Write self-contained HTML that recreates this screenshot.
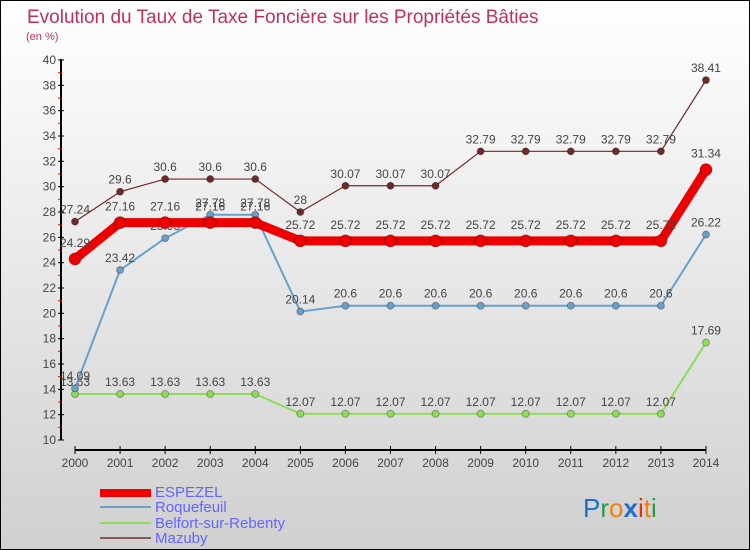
<!DOCTYPE html>
<html><head><meta charset="utf-8"><style>
body{margin:0;}
#wrap{width:750px;height:550px;position:relative;box-sizing:border-box;border:1px solid #000;background:linear-gradient(#fff,#d0d0d0);font-family:"Liberation Sans",sans-serif;overflow:hidden;}
svg text{font-family:"Liberation Sans",sans-serif;}
</style></head><body>
<div id="wrap">
<svg id="chart" width="750" height="550" style="position:absolute;left:-1px;top:-1px">
<text x="27" y="23" font-size="19" fill="#c0305a">Evolution du Taux de Taxe Foncière sur les Propriétés Bâties</text>
<text x="26" y="40" font-size="11" fill="#c0305a">(en %)</text>
<g id="axes"></g><g id="series"></g>
<g>
<rect x="100" y="489" width="51" height="8" fill="#e00"/>
<text x="155" y="497" font-size="15" fill="#6464ff">ESPEZEL</text>
<line x1="100" x2="151" y1="507" y2="507" stroke="#6a9fc8" stroke-width="2"/>
<text x="155" y="512" font-size="15" fill="#6464ff">Roquefeuil</text>
<line x1="100" x2="151" y1="523" y2="523" stroke="#8fdc5a" stroke-width="2"/>
<text x="155" y="528" font-size="15" fill="#6464ff">Belfort-sur-Rebenty</text>
<line x1="100" x2="151" y1="538" y2="538" stroke="#8a5a5a" stroke-width="2"/>
<text x="155" y="543" font-size="15" fill="#6464ff">Mazuby</text>
</g>
<text x="583" y="517" font-size="26"><tspan fill="#1a6fc8">P</tspan><tspan fill="#2a9a40">r</tspan><tspan fill="#f08010">o</tspan><tspan fill="#1a6fc8" font-weight="bold">x</tspan><tspan fill="#e03010">i</tspan><tspan fill="#f08010">t</tspan><tspan fill="#2a9a40">i</tspan></text>
</svg>
</div>
<script>
const years=[2000,2001,2002,2003,2004,2005,2006,2007,2008,2009,2010,2011,2012,2013,2014];
const espezel=[24.29,27.16,27.16,27.16,27.16,25.72,25.72,25.72,25.72,25.72,25.72,25.72,25.72,25.72,31.34];
const roquefeuil=[14.09,23.42,25.93,27.78,27.78,20.14,20.6,20.6,20.6,20.6,20.6,20.6,20.6,20.6,26.22];
const belfort=[13.63,13.63,13.63,13.63,13.63,12.07,12.07,12.07,12.07,12.07,12.07,12.07,12.07,12.07,17.69];
const mazuby=[27.24,29.6,30.6,30.6,30.6,28,30.07,30.07,30.07,32.79,32.79,32.79,32.79,32.79,38.41];
const yTicks=[10,12,14,16,18,20,22,24,26,28,30,32,34,36,38,40];
const NS='http://www.w3.org/2000/svg';
const X=i=>75+i*45.07, Y=v=>440-(v-10)*12.667;
function mk(t,a,p){const e=document.createElementNS(NS,t);for(const k in a)e.setAttribute(k,a[k]);p.appendChild(e);return e;}
const ax=document.getElementById('axes');
let l=mk('line',{x1:61,x2:61,y1:59,y2:440,stroke:'#000','stroke-width':2},ax);


l=mk('line',{x1:75,x2:706,y1:450,y2:450,stroke:'#000','stroke-width':2},ax);


yTicks.forEach(v=>{
 mk('line',{x1:58,x2:64,y1:Y(v),y2:Y(v),stroke:'#000'},ax);
 if(v<40) mk('line',{x1:58,x2:61,y1:Y(v+1),y2:Y(v+1),stroke:'#f00'},ax);
 const t=mk('text',{x:56,y:Y(v)+4,'font-size':12,'text-anchor':'end',fill:'#444'},ax);t.textContent=v;
 
 
});
years.forEach((y,i)=>{
 mk('line',{x1:X(i),x2:X(i),y1:446,y2:454,stroke:'#000'},ax);
 const t=mk('text',{x:X(i),y:467,'font-size':12,'text-anchor':'middle',fill:'#444'},ax);t.textContent=y;
 
 
});
const sg=document.getElementById('series');
function series(vals,color,w,r,name,dy){
 const g=mk('g',{},sg);
 
 
 mk('polyline',{points:vals.map((v,i)=>X(i)+','+Y(v)).join(' '),fill:'none',stroke:color,'stroke-width':w,'stroke-linejoin':'round'},g);
 vals.forEach((v,i)=>{
  const c=mk('circle',{cx:X(i),cy:Y(v),r:r,fill:color,stroke:'rgba(0,0,0,0.3)'},g);
  
  
  const t=mk('text',{x:X(i),y:Y(v)+dy,'font-size':12,'text-anchor':'middle',fill:'#444'},g);t.textContent=v;
  
  
 });
}
series(belfort,'#8fdc5a',2,3.5,'belfort',-8);
series(roquefeuil,'#6a9fc8',2,3.5,'roquefeuil',-8);
series(mazuby,'#6e2a2a',1.2,3.5,'mazuby',-8);
series(espezel,'#ee0000',9,6,'espezel',-12);
</script>
</body></html>
